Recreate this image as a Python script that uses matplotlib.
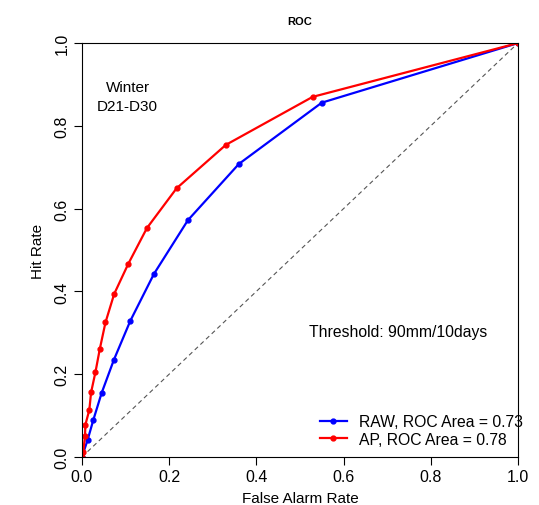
import matplotlib
matplotlib.use("Agg")
import matplotlib.pyplot as plt

plt.rcParams["font.family"] = ["Liberation Sans", "DejaVu Sans"]

# ROC points
raw_far = [0.0, 0.013, 0.026, 0.045, 0.073, 0.111, 0.165, 0.243, 0.360, 0.550, 1.0]
raw_hit = [0.0, 0.041, 0.089, 0.154, 0.234, 0.329, 0.442, 0.572, 0.708, 0.856, 1.0]

ap_far = [0.0, 0.003, 0.007, 0.008, 0.017, 0.021, 0.031, 0.041, 0.054, 0.074,
          0.106, 0.149, 0.217, 0.330, 0.529, 1.0]
ap_hit = [0.0, 0.012, 0.050, 0.078, 0.114, 0.156, 0.205, 0.261, 0.325, 0.394,
          0.466, 0.553, 0.649, 0.754, 0.870, 1.0]

ticks = [0.0, 0.2, 0.4, 0.6, 0.8, 1.0]

fig = plt.figure(figsize=(5.39, 5.06), dpi=100)
ax = fig.add_axes([0.152, 0.0949, 0.809, 0.818])

ax.plot([0, 1], [0, 1], color="#555555", linestyle=(0, (4, 3)), linewidth=0.8)
ax.plot(raw_far, raw_hit, color="blue", marker="o", markersize=3.5, linewidth=1.6,
        label="RAW, ROC Area = 0.73")
ax.plot(ap_far, ap_hit, color="red", marker="o", markersize=3.5, linewidth=1.6,
        label="AP, ROC Area = 0.78")

ax.set_xlim(0, 1)
ax.set_ylim(0, 1)
ax.set_xticks(ticks)
ax.set_yticks(ticks)
ax.set_xticklabels(["%.1f" % t for t in ticks], fontsize=11.5)
ax.set_yticklabels(["%.1f" % t for t in ticks], fontsize=11.5, rotation=90, va="center")
ax.tick_params(direction="out", length=6, width=0.8, pad=3)

ax.set_xlabel("False Alarm Rate", fontsize=11, labelpad=5)
ax.set_ylabel("Hit Rate", fontsize=11, labelpad=7)
ax.set_title("ROC", fontsize=8, fontweight="bold", pad=14)

ax.text(0.105, 0.87, "Winter\nD21-D30", fontsize=11, ha="center", va="center",
        linespacing=1.45)
ax.text(0.725, 0.302, "Threshold: 90mm/10days", fontsize=11.3, ha="center", va="center")

leg = ax.legend(loc="lower left", frameon=False, fontsize=11.3, handlelength=1.7,
                handletextpad=0.8, borderpad=0, borderaxespad=0, labelspacing=0.15,
                bbox_to_anchor=(0.546, 0.025))
leg.set_clip_on(False)

fig.savefig("out.png", dpi=100)
